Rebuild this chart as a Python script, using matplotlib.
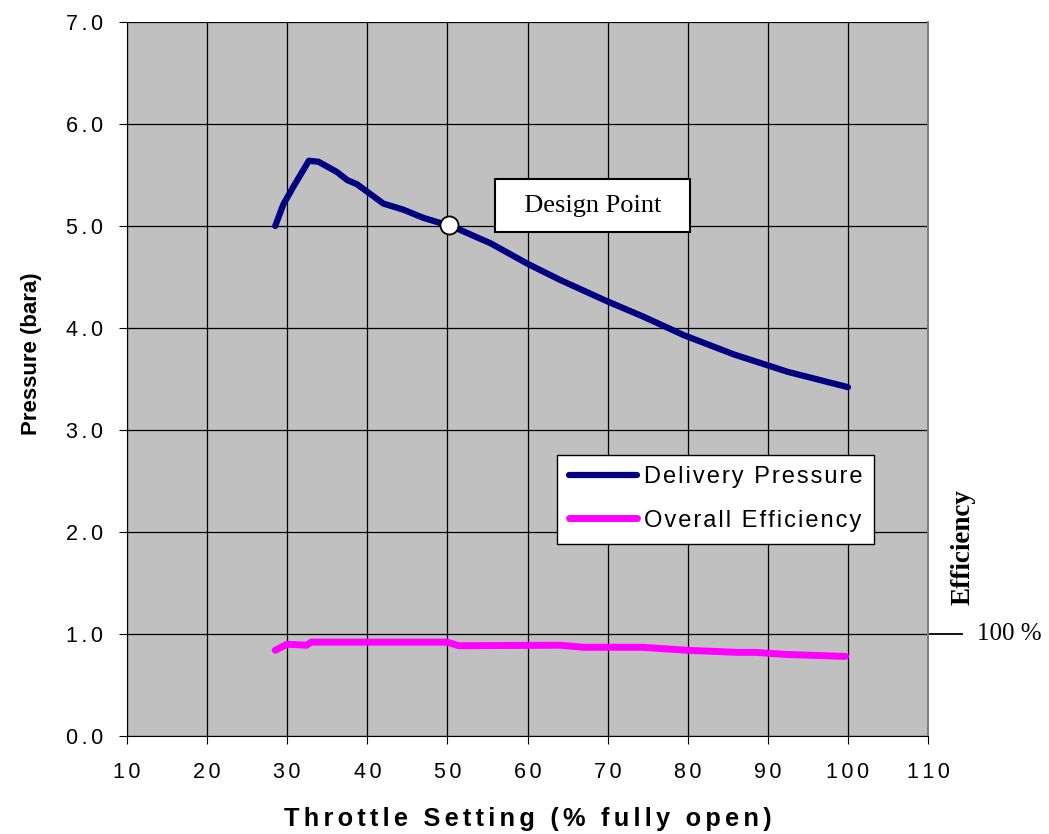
import matplotlib
matplotlib.use("Agg")
import matplotlib.pyplot as plt

# Delivery pressure (bara) vs throttle setting (% fully open)
throttle_p = [28.5, 29.5, 30.8, 32.7, 33.9, 36.2, 37.5, 38.7, 42.0, 44.5, 47.0,
              49.1, 50.2, 52.5, 55.4, 60.0, 64.1, 70.0, 74.5, 79.5, 85.8, 92.5, 100.0]
pressure = [5.00, 5.21, 5.39, 5.64, 5.63, 5.53, 5.45, 5.41, 5.22, 5.16, 5.08,
            5.03, 5.01, 4.93, 4.83, 4.63, 4.47, 4.26, 4.11, 3.93, 3.74, 3.57, 3.42]

# Overall efficiency (fraction, plotted on same axis)
throttle_e = [28.5, 30.0, 32.4, 33.0, 50.0, 51.4, 64.1, 67.0, 74.3, 80.0, 86.2,
              88.4, 92.2, 99.7]
efficiency = [0.84, 0.90, 0.89, 0.92, 0.92, 0.885, 0.89, 0.87, 0.87, 0.84, 0.82,
              0.82, 0.80, 0.78]

design_x, design_y = 50.2, 5.01

x_ticks = list(range(10, 111, 10))
y_ticks = [0.0, 1.0, 2.0, 3.0, 4.0, 5.0, 6.0, 7.0]

plt.rcParams["font.family"] = ["Liberation Sans", "DejaVu Sans"]


def spaced(s, n=1):
    # mimic the loose letter spacing of the original chart (hair spaces)
    return ("\u200a" * n).join(s)


fig = plt.figure(figsize=(10.49, 8.34), dpi=100)
ax = fig.add_axes([0.1211, 0.1175, 0.7636, 0.8561])
ax.set_facecolor("#C0C0C0")

ax.plot(throttle_p, pressure, color="#000080", lw=4.5, solid_capstyle="round",
        solid_joinstyle="round", label=spaced("Delivery Pressure"), zorder=3)
ax.plot(throttle_e, efficiency, color="#FF00FF", lw=5, solid_capstyle="round",
        solid_joinstyle="round", label=spaced("Overall Efficiency"), zorder=3)
ax.plot([design_x], [design_y], "o", ms=13, mfc="white", mec="black", mew=1.3,
        zorder=4)

ax.text(68.1, 5.2, "  Design Point  ", family="Liberation Serif", fontsize=19,
        ha="center", va="center",
        bbox=dict(boxstyle="square,pad=0.6", fc="white", ec="black", lw=1.5))

ax.set_xlim(10, 110)
ax.set_ylim(0, 7)
ax.set_xticks(x_ticks)
ax.set_xticklabels([spaced(str(v), 2) for v in x_ticks])
ax.set_yticks(y_ticks)
ax.set_yticklabels([spaced(f"{v:.1f}", 2) for v in y_ticks])
ax.tick_params(axis="both", labelsize=15.5, length=6, direction="out", color="black")
ax.tick_params(axis="y", pad=11)
ax.tick_params(axis="x", pad=13)
ax.grid(True, color="black", lw=0.9)
ax.set_axisbelow(True)
ax.spines["top"].set_visible(False)
ax.spines["right"].set_color("#808080")
ax.spines["right"].set_linewidth(1.5)

ax.set_ylabel("Pressure (bara)", fontsize=16, fontweight="bold")
ax.yaxis.set_label_coords(-0.106, 0.535)
ax.set_xlabel(spaced("Throttle Setting (% fully open)", 2), fontsize=18.3,
              fontweight="bold")
ax.xaxis.set_label_coords(0.5, -0.1)

leg = ax.legend(loc="upper left", bbox_to_anchor=(0.537, 0.394), fontsize=17,
                frameon=True, fancybox=False, edgecolor="black", facecolor="white",
                framealpha=1, handlelength=2.9, handletextpad=0.27,
                borderpad=0.5, labelspacing=0.9, borderaxespad=0)
leg.get_frame().set_linewidth(1.0)

# secondary efficiency annotation on the right
ax.plot([110, 114.2], [1.0, 1.0], color="black", lw=1.3, clip_on=False)
ax.text(116.1, 1.0, "100 %", family="Liberation Serif", fontsize=18,
        ha="left", va="center", clip_on=False)
ax.text(114.4, 1.85, "Efficiency", family="Liberation Serif", fontsize=19.5,
        fontweight="bold", rotation=90, ha="center", va="center", clip_on=False)

fig.savefig("out.png", dpi=100)
